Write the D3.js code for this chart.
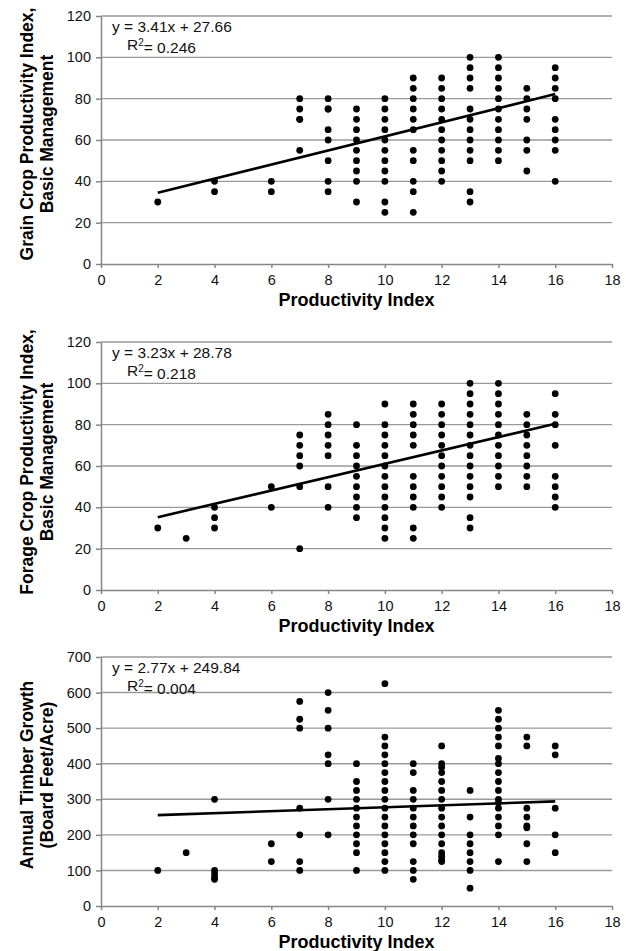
<!DOCTYPE html>
<html>
<head>
<meta charset="utf-8">
<script src="https://cdn.jsdelivr.net/npm/d3@7"></script>
<style>
  body { margin: 0; background: #fff; }
  svg { display: block; font-family: "Liberation Sans", Arial, sans-serif; }
  .axis path, .axis line { stroke: #868686; stroke-width: 1.5; }
  .axis text { font-size: 14.5px; fill: #111; }
</style>
</head>
<body>
<svg id="chart" width="631" height="951"></svg>
<script>
// x column -> list of y values
const grainPoints = [
  [2, [30]],
  [4, [40, 35]],
  [6, [40, 35]],
  [7, [80, 75, 70, 70, 55]],
  [8, [80, 75, 75, 65, 60, 50, 40, 35]],
  [9, [75, 70, 65, 60, 55, 50, 45, 40, 30]],
  [10, [80, 75, 70, 65, 60, 55, 50, 45, 40, 30, 25]],
  [11, [90, 85, 80, 75, 70, 65, 55, 50, 40, 35, 25]],
  [12, [90, 85, 80, 75, 70, 65, 60, 55, 50, 45, 40]],
  [13, [100, 95, 90, 85, 75, 70, 65, 60, 55, 50, 35, 30]],
  [14, [100, 95, 90, 85, 80, 75, 70, 65, 60, 55, 50]],
  [15, [85, 80, 75, 70, 60, 55, 45]],
  [16, [95, 90, 85, 80, 70, 65, 60, 55, 40]]
];

const foragePoints = [
  [2, [30]],
  [3, [25]],
  [4, [40, 35, 30]],
  [6, [50, 40]],
  [7, [75, 70, 65, 60, 50, 20]],
  [8, [85, 80, 75, 70, 65, 50, 40]],
  [9, [80, 70, 65, 60, 55, 50, 45, 40, 35]],
  [10, [90, 80, 75, 70, 65, 60, 55, 50, 45, 40, 35, 30, 25]],
  [11, [90, 85, 80, 75, 70, 55, 50, 45, 40, 30, 25]],
  [12, [90, 85, 80, 75, 70, 65, 60, 55, 50, 45, 40]],
  [13, [100, 95, 90, 85, 80, 75, 70, 65, 60, 55, 50, 45, 35, 30]],
  [14, [100, 95, 90, 85, 80, 75, 70, 65, 60, 55, 50]],
  [15, [85, 80, 75, 70, 65, 60, 55, 50]],
  [16, [95, 85, 80, 70, 55, 50, 45, 40]]
];

const timberPoints = [
  [2, [100]],
  [3, [150]],
  [4, [300, 100, 90, 80, 75]],
  [6, [175, 125]],
  [7, [575, 525, 500, 275, 200, 125, 100]],
  [8, [600, 550, 500, 425, 400, 300, 200]],
  [9, [400, 350, 325, 300, 275, 250, 225, 200, 175, 150, 100]],
  [10, [625, 475, 450, 425, 400, 375, 350, 325, 300, 275, 250, 225, 200, 175, 150, 125, 100]],
  [11, [400, 375, 325, 300, 275, 250, 225, 200, 175, 125, 100, 75]],
  [12, [450, 400, 390, 375, 350, 325, 300, 275, 250, 225, 200, 175, 150, 140, 130, 125]],
  [13, [325, 250, 200, 175, 150, 125, 100, 50]],
  [14, [550, 525, 500, 475, 450, 415, 400, 375, 350, 325, 300, 290, 275, 250, 225, 200, 125]],
  [15, [475, 450, 275, 250, 225, 220, 175, 125]],
  [16, [450, 425, 275, 200, 150]]
];

// regression: [slope, intercept, r2]
const grainFit = [3.41, 27.66, "0.246"];
const forageFit = [3.23, 28.78, "0.218"];
const timberFit = [2.77, 249.84, "0.004"];

const xTicks = [0, 2, 4, 6, 8, 10, 12, 14, 16, 18];
const grainTicks = [0, 20, 40, 60, 80, 100, 120];
const timberTicks = [0, 100, 200, 300, 400, 500, 600, 700];

const svg = d3.select("#chart");
const x = d3.scaleLinear().domain([0, 18]).range([101, 612]);

function drawPanel(points, fit, yTicks, top, bottom, labelLines, labelY) {
  const y = d3.scaleLinear().domain([0, d3.max(yTicks)]).range([bottom, top]);
  const g = svg.append("g");

  // gridlines
  g.append("g").selectAll("line")
    .data(yTicks.filter(d => d > 0))
    .join("line")
    .attr("x1", x(0)).attr("x2", x(18))
    .attr("y1", d => y(d)).attr("y2", d => y(d))
    .attr("stroke", "#9a9a9a").attr("stroke-width", 1.4);

  g.append("g").attr("class", "axis")
    .attr("transform", `translate(${x(0)},0)`)
    .call(d3.axisLeft(y).tickValues(yTicks).tickSize(5).tickPadding(5).tickSizeOuter(0));

  g.append("g").attr("class", "axis")
    .attr("transform", `translate(0,${bottom})`)
    .call(d3.axisBottom(x).tickValues(xTicks).tickSize(4).tickPadding(7).tickSizeOuter(0));

  // dots
  const flat = points.flatMap(([px, ys]) => ys.map(v => [px, v]));
  g.append("g").selectAll("circle")
    .data(flat)
    .join("circle")
    .attr("cx", d => x(d[0]))
    .attr("cy", d => y(d[1]))
    .attr("r", 3.4)
    .attr("fill", "#000");

  // trend line
  const xs = d3.extent(points, d => d[0]);
  g.append("line")
    .attr("x1", x(xs[0])).attr("y1", y(fit[0] * xs[0] + fit[1]))
    .attr("x2", x(xs[1])).attr("y2", y(fit[0] * xs[1] + fit[1]))
    .attr("stroke", "#000").attr("stroke-width", 2.6);

  // equation
  const eq = g.append("g").style("font-size", "15.5px").attr("fill", "#111");
  eq.append("text").attr("x", 112).attr("y", top + 11).attr("dy", "0.35em")
    .text(`y = ${fit[0].toFixed(2)}x + ${fit[1].toFixed(2)}`);
  const r = eq.append("text").attr("x", 127).attr("y", top + 29).attr("dy", "0.35em");
  r.append("tspan").text("R");
  r.append("tspan").attr("dy", "-0.45em").style("font-size", "10px").text("2");
  r.append("tspan").attr("dy", "0.45em").text("= " + fit[2]);

  // axis titles
  g.append("text")
    .attr("x", x(9)).attr("y", bottom + 36).attr("dy", "0.35em")
    .attr("text-anchor", "middle")
    .style("font-size", "18px").style("font-weight", "bold")
    .text("Productivity Index");

  const yl = g.append("text")
    .attr("transform", `translate(27,${labelY}) rotate(-90)`)
    .attr("text-anchor", "middle")
    .style("font-size", "17.5px").style("font-weight", "bold");
  labelLines.forEach((t, i) => {
    yl.append("tspan").attr("x", 0).attr("y", i * 20).attr("dy", "0.35em").text(t);
  });
}

drawPanel(grainPoints, grainFit, grainTicks, 16, 264,
  ["Grain Crop Productivity Index,", "Basic Management"], 134);
drawPanel(foragePoints, forageFit, grainTicks, 342, 590,
  ["Forage Crop Productivity Index,", "Basic Management"], 462);
drawPanel(timberPoints, timberFit, timberTicks, 657, 906,
  ["Annual Timber Growth", "(Board Feet/Acre)"], 775);
</script>
</body>
</html>
